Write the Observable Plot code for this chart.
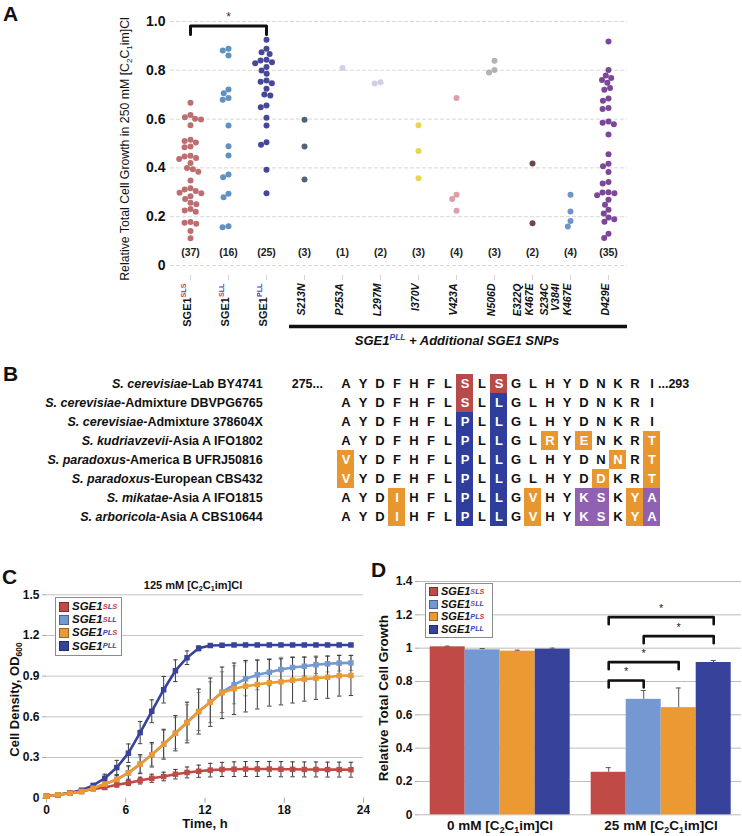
<!DOCTYPE html>
<html>
<head>
<meta charset="utf-8">
<script src="https://cdn.jsdelivr.net/npm/d3@7"></script>
<script src="https://cdn.jsdelivr.net/npm/@observablehq/plot@0.6"></script>
<style>
  html,body{margin:0;padding:0;background:#fff;}
  #fig{position:relative;width:742px;height:836px;overflow:hidden;font-family:"Liberation Sans",Arial,sans-serif;color:#111;background:#fff;}
  .box{position:absolute;}
  .leg{position:absolute;background:#fff;border:1px solid #8c8c8c;box-sizing:border-box;display:flex;flex-direction:column;justify-content:space-evenly;padding:1px 3px;}
  .li{display:flex;align-items:center;font-weight:bold;font-style:italic;white-space:nowrap;line-height:1;}
  .sw{display:inline-block;box-sizing:border-box;margin-right:3px;border:1px solid rgba(0,0,0,0.35);flex:none;}
  sup{font-size:65%;line-height:0;vertical-align:0.6em;}
</style>
</head>
<body>
<div id="fig"></div>
<script>
// ---------------- DATA ----------------
// Panel A: relative total growth in 250 mM [C2C1im]Cl
const catsA = ["SLS","SLL","PLL","S213N","P253A","L297M","I370V","V423A","N506D","E322Q/K467E","S234C/V384I/K467E","D429E"];
const labelsA = ["SGE1^{SLS}","SGE1^{SLL}","SGE1^{PLL}","S213N","P253A","L297M","I370V","V423A","N506D","E322Q\nK467E","S234C\nV384I\nK467E","D429E"];
const colorsA = ["#b35a5c","#4a82b8","#2e2e8c","#3c4d6b","#c6cbe6","#cdc7e2","#e6cf3a","#d7929b","#a9a9a9","#5b2e2e","#5b86c0","#6b2d8b"];
const valsSLS = [0.667,0.617,0.608,0.601,0.598,0.575,0.515,0.51,0.504,0.488,0.485,0.45,0.447,0.441,0.436,0.42,0.40,0.394,0.384,0.348,0.317,0.311,0.305,0.298,0.296,0.284,0.273,0.257,0.251,0.232,0.225,0.22,0.178,0.175,0.171,0.141,0.112];
const valsSLL = [0.888,0.881,0.861,0.721,0.706,0.686,0.679,0.574,0.489,0.451,0.373,0.362,0.294,0.28,0.161,0.157];
const valsPLL = [0.925,0.888,0.874,0.867,0.843,0.84,0.833,0.829,0.813,0.799,0.786,0.758,0.753,0.747,0.724,0.701,0.697,0.656,0.649,0.605,0.574,0.505,0.495,0.392,0.296];
const valsS213N = [0.597,0.488,0.352];
const valsP253A = [0.809];
const valsL297M = [0.751,0.746];
const valsI370V = [0.575,0.469,0.358];
const valsV423A = [0.686,0.29,0.273,0.224];
const valsN506D = [0.839,0.801,0.791];
const valsE322Q = [0.418,0.173];
const valsS234C = [0.29,0.221,0.182,0.16];
const valsD429E = [0.918,0.801,0.779,0.768,0.76,0.749,0.727,0.72,0.684,0.675,0.645,0.641,0.59,0.585,0.579,0.537,0.456,0.417,0.407,0.383,0.342,0.336,0.30,0.299,0.296,0.288,0.269,0.249,0.228,0.213,0.197,0.19,0.179,0.13,0.113];
const valsA = [valsSLS,valsSLL,valsPLL,valsS213N,valsP253A,valsL297M,valsI370V,valsV423A,valsN506D,valsE322Q,valsS234C,valsD429E];
const ticksA = [0,0.2,0.4,0.6,0.8,1.0];
const sigA = [{from:"SLS", mid:"SLL", to:"PLL", y:0.981}];
const yTitleA = "Relative Total Cell Growth in 250 mM [C_{2}C_{1}im]Cl";

// Panel B: alignment
const firstResidue = 275, lastResidue = 293;
const speciesB = ["~{S. cerevisiae}-Lab BY4741","~{S. cerevisiae}-Admixture DBVPG6765","~{S. cerevisiae}-Admixture 378604X","~{S. kudriavzevii}-Asia A IFO1802","~{S. paradoxus}-America B UFRJ50816","~{S. paradoxus}-European CBS432","~{S. mikatae}-Asia A IFO1815","~{S. arboricola}-Asia A CBS10644"];
const seqB = ["AYDFHFLSLSGLHYDNKRI","AYDFHFLSLLGLHYDNKRI","AYDFHFLPLLGLHYDNKRI","AYDFHFLPLLGLRYENKRT","VYDFHFLPLLGLHYDNNRT","VYDFHFLPLLGLHYDDKRT","AYDIHFLPLLGVHYKSKYA","AYDIHFLPLLGVHYKSKYA"];
const hlB  = [".......r.r.........",".......r.b.........",".......b.b.........",".......b.b..o.o...o","o......b.b......o.o","o......b.b.....o..o","...o...b.b.o..pp.op","...o...b.b.o..pp.op"];
const hlKeys = ["r","b","o","p"];
const hlColors = ["#b94a4a","#2f3d9c","#e8972f","#9061b3"];

// Panels C & D
const genos = ["SLS","SLL","PLS","PLL"];
const genoColors = ["#bf4a46","#7498d2","#eb9a33","#37429b"];
const tC = [0,0.86,1.77,2.65,3.53,4.41,5.32,6.2,7.09,7.97,8.87,9.76,10.64,11.52,12.4,13.29,14.2,15.07,15.96,16.87,17.75,18.63,19.52,20.4,21.28,22.16,23.05];
const odSLS = [0.015,0.025,0.037,0.049,0.069,0.079,0.099,0.113,0.13,0.147,0.16,0.177,0.19,0.199,0.207,0.212,0.214,0.215,0.215,0.215,0.214,0.213,0.212,0.212,0.211,0.211,0.21];
const errSLS = [0.003,0.004,0.005,0.006,0.009,0.012,0.016,0.02,0.025,0.03,0.032,0.035,0.04,0.045,0.05,0.052,0.054,0.055,0.055,0.056,0.056,0.055,0.055,0.055,0.055,0.055,0.055];
const odSLL = [0.015,0.025,0.037,0.05,0.074,0.104,0.138,0.187,0.251,0.32,0.398,0.479,0.558,0.639,0.708,0.782,0.836,0.88,0.91,0.929,0.949,0.964,0.973,0.984,0.991,0.996,0.998];
const errSLL = [0.003,0.004,0.005,0.008,0.012,0.02,0.03,0.045,0.06,0.08,0.1,0.115,0.13,0.14,0.15,0.15,0.14,0.125,0.11,0.1,0.09,0.08,0.07,0.065,0.06,0.058,0.055];
const odPLS = [0.015,0.025,0.037,0.05,0.074,0.104,0.138,0.187,0.251,0.32,0.398,0.479,0.558,0.639,0.708,0.777,0.807,0.826,0.838,0.851,0.858,0.87,0.878,0.885,0.892,0.903,0.905];
const errPLS = [0.003,0.004,0.005,0.008,0.012,0.02,0.032,0.052,0.07,0.09,0.11,0.13,0.15,0.166,0.178,0.19,0.19,0.19,0.18,0.172,0.17,0.168,0.162,0.156,0.155,0.15,0.148];
const odPLL = [0.015,0.025,0.04,0.059,0.094,0.147,0.226,0.332,0.484,0.641,0.8,0.94,1.036,1.105,1.126,1.128,1.13,1.13,1.13,1.13,1.13,1.13,1.13,1.13,1.13,1.13,1.13];
const errPLL = [0.003,0.004,0.006,0.01,0.015,0.03,0.053,0.068,0.082,0.084,0.098,0.08,0.05,0.018,0.008,0.005,0.005,0.005,0.005,0.005,0.005,0.005,0.005,0.005,0.005,0.005,0.005];
const ticksCy = [0,0.3,0.6,0.9,1.2,1.5];
const ticksCx = [0,6,12,18,24];

const condsD = ["0 mM [C_{2}C_{1}im]Cl","25 mM [C_{2}C_{1}im]Cl"];
const growth0 = [1.008,0.99,0.982,0.994];
const gErr0 = [0.004,0.008,0.006,0.006];
const growth25 = [0.255,0.693,0.643,0.914];
const gErr25 = [0.028,0.053,0.118,0.012];
const ticksD = [0,0.2,0.4,0.6,0.8,1,1.2,1.4];
const sigD = [
  {cond: condsD[1], from:"SLS", to:"PLL", y:1.186},
  {cond: condsD[1], from:"SLL", to:"PLL", y:1.072},
  {cond: condsD[1], from:"SLS", to:"PLS", y:0.916},
  {cond: condsD[1], from:"SLS", to:"SLL", y:0.806}
];

// ---------------- HELPERS ----------------
const FONT = '"Liberation Sans", Arial, sans-serif';
const SUP_RED = "#d0392f", SUP_BLUE = "#3446c0";
const supColor = ch => ch === "S" ? SUP_RED : SUP_BLUE;
const fig = document.getElementById("fig");
function place(node, left, top) {
  const d = document.createElement("div");
  d.className = "box"; d.style.left = left + "px"; d.style.top = top + "px";
  d.appendChild(node); fig.appendChild(d); return d;
}
function addHTML(html, css) {
  const d = document.createElement("div");
  d.innerHTML = html; d.style.cssText = "position:absolute;" + css;
  fig.appendChild(d); return d;
}
function rich(svg) {
  const NS = "http://www.w3.org/2000/svg";
  const els = Array.from(svg.querySelectorAll("text, tspan")).filter(e => e.children.length === 0 && /[\^_~]\{/.test(e.textContent));
  for (const el of els) {
    const s = el.textContent;
    el.textContent = "";
    const parts = s.split(/(\^\{[^}]*\}|_\{[^}]*\}|~\{[^}]*\})/).filter(p => p !== "");
    let back = null;
    for (const p of parts) {
      const t = document.createElementNS(NS, "tspan");
      if (p.startsWith("^{")) {
        t.setAttribute("font-size", "0.65em");
        t.setAttribute("dy", "-0.6em");
        for (const ch of p.slice(2, -1)) {
          const c = document.createElementNS(NS, "tspan");
          c.setAttribute("fill", supColor(ch)); c.textContent = ch; t.appendChild(c);
        }
        back = "0.39em";
      } else if (p.startsWith("_{")) {
        t.setAttribute("font-size", "0.65em");
        t.setAttribute("dy", "0.35em");
        t.textContent = p.slice(2, -1);
        back = "-0.2275em";
      } else {
        if (back) { t.setAttribute("dy", back); back = null; }
        if (p.startsWith("~{")) { t.setAttribute("font-style", "italic"); t.textContent = p.slice(2, -1); }
        else t.textContent = p;
      }
      el.appendChild(t);
    }
  }
  return svg;
}
function legend(left, top, w, h, sw, fs) {
  const items = genos.map((g, i) => {
    const sup = [...g].map(ch => `<span style="color:${supColor(ch)}">${ch}</span>`).join("");
    return `<div class="li" style="font-size:${fs}px"><span class="sw" style="width:${sw}px;height:${sw}px;background:${genoColors[i]}"></span>SGE1<sup>${sup}</sup></div>`;
  }).join("");
  const d = addHTML(items, `left:${left}px;top:${top}px;width:${w}px;height:${h}px;`);
  d.className = "leg";
}
const capSymbol = {draw(ctx, size) { const r = Math.sqrt(size / Math.PI); ctx.moveTo(-r, 0); ctx.lineTo(r, 0); }};

// ---------------- PANEL A ----------------
const dataA = catsA.flatMap((c, i) => valsA[i].map(v => ({cat: c, v})));
const countsA = catsA.map((c, i) => ({cat: c, n: valsA[i].length, label: labelsA[i]}));
const frameA = {width: 742, height: 350, marginLeft: 170, marginRight: 115, marginTop: 10, marginBottom: 75};
const yDomA = [-0.041, 1.045];
const legA = 0.034;
const bracketA = sigA.flatMap((b, i) => [
  {i, x: b.from, y: b.y - legA}, {i, x: b.from, y: b.y}, {i, x: b.to, y: b.y}, {i, x: b.to, y: b.y - legA}
]);
const plotA2 = Plot.plot({
  ...frameA,
  style: {fontFamily: FONT, background: "transparent", color: "#111"},
  x: {type: "point", domain: catsA, padding: 0.5},
  y: {domain: yDomA},
  marks: [
    Plot.ruleY(ticksA, {stroke: "#d8d8d8", strokeDasharray: "4,2"}),
    Plot.axisY({ticks: ticksA, tickSize: 0, tickPadding: 5, line: true, stroke: "#dcdcdc", fontSize: 14, fontWeight: "bold", label: null, tickFormat: d => d === 0 ? "0" : d.toFixed(1)}),
    Plot.axisX({tickSize: 5, line: true, stroke: "#d4d4d4", tickFormat: () => "", label: null}),
    Plot.text(countsA, {x: "cat", text: d => `(${d.n})`, frameAnchor: "bottom", dy: -20, fontSize: 10.5, fontWeight: "bold", fill: "#222"}),
    Plot.text(countsA.slice(0, 3), {x: "cat", text: "label", rotate: -90, textAnchor: "end", frameAnchor: "bottom", dy: 8, fontSize: 11, fontWeight: "bold"}),
    Plot.text(countsA.slice(3), {x: "cat", text: "label", rotate: -90, textAnchor: "end", frameAnchor: "bottom", dy: 8, fontSize: 10.5, fontWeight: "bold", fontStyle: "italic", lineHeight: 1.05}),
    Plot.line(bracketA, {x: "x", y: "y", z: "i", stroke: "#111", strokeWidth: 3}),
    Plot.text(sigA, {x: "mid", y: "y", text: () => "*", dy: -9, fontSize: 12, fill: "#333"}),
    Plot.ruleY([0], {x1: () => "S213N", x2: () => "D429E", dy: 61, insetLeft: -15, insetRight: -19, stroke: "#111", strokeWidth: 3.5}),
    Plot.text([yTitleA], {frameAnchor: "left", textAnchor: "middle", rotate: -90, dx: -45, dy: 6, fontSize: 12.3})
  ]
});
place(rich(plotA2), 0, 0);
const plotA1 = Plot.plot({
  ...frameA,
  style: {fontFamily: FONT, background: "transparent"},
  fx: {domain: catsA, padding: 0, axis: null},
  y: {domain: yDomA, axis: null},
  color: {domain: catsA, range: colorsA},
  marks: [
    Plot.dot(dataA, Plot.dodgeX({anchor: "middle", padding: 0}, {fx: "cat", y: "v", r: 3, fill: "cat", fillOpacity: 0.88}))
  ]
});
place(plotA1, 0, 0);
addHTML(`<b><i>SGE1<sup style="color:${SUP_BLUE}">PLL</sup> + Additional SGE1 SNPs</i></b>`, "left:287px;top:333px;width:340px;text-align:center;font-size:13px;");
addHTML("A", "left:3px;top:2px;font-weight:bold;font-size:21px;");

// ---------------- PANEL B ----------------
const residuesB = seqB.flatMap((s, r) => [...s].map((ch, p) => ({r, p, ch, h: hlB[r][p]})));
const plotB = Plot.plot({
  width: 742, height: 170, marginLeft: 332.25, marginRight: 77.25, marginTop: 13.5, marginBottom: 4.5,
  style: {fontFamily: FONT, background: "transparent", color: "#111"},
  x: {domain: d3.range(lastResidue - firstResidue + 1), padding: 0, axis: null},
  y: {domain: d3.range(seqB.length), padding: 0, axis: null},
  color: {domain: hlKeys, range: hlColors},
  marks: [
    Plot.cell(residuesB.filter(d => d.h !== "."), {x: "p", y: "r", fill: "h"}),
    Plot.text(residuesB.filter(d => d.h === "."), {x: "p", y: "r", text: "ch", fontSize: 13, fontWeight: "bold", fill: "#111"}),
    Plot.text(residuesB.filter(d => d.h !== "."), {x: "p", y: "r", text: "ch", fontSize: 13, fontWeight: "bold", fill: "white"}),
    Plot.text(speciesB, {y: (d, i) => i, text: d => d, frameAnchor: "left", textAnchor: "end", dx: -70, fontSize: 12.5, fontWeight: "bold"}),
    Plot.text([firstResidue], {x: () => 0, y: () => 0, text: d => d + "...", textAnchor: "end", dx: -23, fontSize: 12.5, fontWeight: "bold"}),
    Plot.text([lastResidue], {x: () => lastResidue - firstResidue, y: () => 0, text: d => "..." + d, textAnchor: "start", dx: 6, fontSize: 12.5, fontWeight: "bold"})
  ]
});
place(rich(plotB), 0, 360);
addHTML("B", "left:3px;top:362px;font-weight:bold;font-size:21px;");

// ---------------- PANEL C ----------------
const seriesC = {SLS: [odSLS, errSLS], SLL: [odSLL, errSLL], PLS: [odPLS, errPLS], PLL: [odPLL, errPLL]};
const dataC = genos.flatMap(g => tC.map((t, i) => ({g, t, v: seriesC[g][0][i], e: seriesC[g][1][i]})));
const drawOrder = ["SLL", "PLL", "SLS", "PLS"];
const errMarks = drawOrder.flatMap(g => {
  const d = dataC.filter(x => x.g === g);
  const col = g === "SLL" ? "#9a9a9a" : "#3a3a3a";
  return [
    Plot.ruleX(d, {x: "t", y1: x => x.v - x.e, y2: x => x.v + x.e, stroke: col, strokeWidth: 1}),
    Plot.dot(d, {x: "t", y: x => x.v + x.e, symbol: capSymbol, r: 2.2, stroke: col, fill: "none", strokeWidth: 1}),
    Plot.dot(d, {x: "t", y: x => x.v - x.e, symbol: capSymbol, r: 2.2, stroke: col, fill: "none", strokeWidth: 1})
  ];
});
const seriesMarks = drawOrder.flatMap(g => {
  const d = dataC.filter(x => x.g === g);
  return [
    Plot.line(d, {x: "t", y: "v", stroke: "g", strokeWidth: 2.6}),
    Plot.dot(d, {x: "t", y: "v", fill: "g", symbol: "square", r: 3.1})
  ];
});
const plotC = Plot.plot({
  width: 370, height: 276, marginLeft: 46, marginRight: 7, marginTop: 34.3, marginBottom: 38.3,
  style: {fontFamily: FONT, background: "transparent", color: "#111"},
  x: {domain: [0, 24]},
  y: {domain: [0, 1.5]},
  color: {domain: genos, range: genoColors},
  marks: [
    Plot.ruleY(ticksCy.slice(1), {stroke: "#c4c4c4"}),
    Plot.axisY({ticks: ticksCy, tickSize: 4, tickPadding: 3, line: true, stroke: "#a8a8a8", fontSize: 12, fontWeight: "bold", label: null, tickFormat: d => d === 0 ? "0" : d.toFixed(1)}),
    Plot.axisX({ticks: ticksCx, tickSize: 5, tickPadding: 2, line: true, stroke: "#a8a8a8", fontSize: 12, fontWeight: "bold", label: null}),
    ...errMarks,
    ...seriesMarks,
    Plot.text(["125 mM [C_{2}C_{1}im]Cl"], {frameAnchor: "top", dx: -12, dy: -14, fontSize: 11, fontWeight: "bold"}),
    Plot.text(["Time, h"], {frameAnchor: "bottom", dy: 30, fontSize: 13, fontWeight: "bold"}),
    Plot.text(["Cell Density, OD_{600}"], {frameAnchor: "left", textAnchor: "middle", rotate: -90, dx: -32, dy: 3, fontSize: 13, fontWeight: "bold"})
  ]
});
place(rich(plotC), 0, 560);
legend(55, 597, 67, 59, 10, 11.5);
addHTML("C", "left:2px;top:565px;font-weight:bold;font-size:21px;");

// ---------------- PANEL D ----------------
const dataD = [
  ...genos.map((g, i) => ({cond: condsD[0], geno: g, v: growth0[i], e: gErr0[i]})),
  ...genos.map((g, i) => ({cond: condsD[1], geno: g, v: growth25[i], e: gErr25[i]}))
];
const legD = 0.042;
const bracketD = sigD.flatMap((b, i) => [
  {i, cond: b.cond, x: b.from, y: b.y - legD}, {i, cond: b.cond, x: b.from, y: b.y},
  {i, cond: b.cond, x: b.to, y: b.y}, {i, cond: b.cond, x: b.to, y: b.y - legD}
]);
function makeD(extra) {
  return Plot.plot({
    width: 372, height: 276, marginLeft: 48.3, marginRight: 1, marginTop: 21, marginBottom: 21.7,
    style: {fontFamily: FONT, background: "transparent", color: "#111"},
    fx: {domain: condsD, padding: 0},
    x: {domain: genos, paddingInner: 0, paddingOuter: 0.25, axis: null},
    y: {domain: [0, 1.4]},
    color: {domain: genos, range: genoColors},
    marks: [
      Plot.ruleY(ticksD, {stroke: "#bdbdbd"}),
      Plot.axisY({ticks: ticksD, tickSize: 4, tickPadding: 3, line: true, stroke: "#a8a8a8", fontSize: 12, fontWeight: "bold", label: null, tickFormat: d => String(+d.toFixed(1))}),
      Plot.barY(dataD, {fx: "cond", x: "geno", y: "v", fill: "geno"}),
      Plot.ruleX(dataD, {fx: "cond", x: "geno", y1: "v", y2: d => d.v + d.e, stroke: "#555"}),
      Plot.tickY(dataD, {fx: "cond", x: "geno", y: d => d.v + d.e, stroke: "#555", insetLeft: 15, insetRight: 15}),
      Plot.axisFx({anchor: "bottom", tickSize: 0, tickPadding: 6, fontSize: 13.5, fontWeight: "bold", label: null}),
      Plot.line(bracketD, {fx: "cond", x: "x", y: "y", z: "i", stroke: "#111", strokeWidth: 2.6}),
      Plot.text([{cond: condsD[0]}], {fx: "cond", frameAnchor: "left", textAnchor: "middle", rotate: -90, dx: -36, text: () => "Relative Total Cell Growth", fontSize: 13.5, fontWeight: "bold"}),
      ...extra
    ]
  });
}
const bwD = makeD([]).scale("x").bandwidth;
const starMarks = sigD.map(b => Plot.text([b], {fx: "cond", x: "from", y: "y", text: () => "*", dy: -9, fontSize: 11, fill: "#222",
  dx: (genos.indexOf(b.to) - genos.indexOf(b.from)) * bwD / 2}));
const plotD = makeD(starMarks);
place(rich(plotD), 370, 560);
legend(425, 583, 68, 55, 9, 11);
addHTML("D", "left:371px;top:558px;font-weight:bold;font-size:21px;");
</script>
</body>
</html>
